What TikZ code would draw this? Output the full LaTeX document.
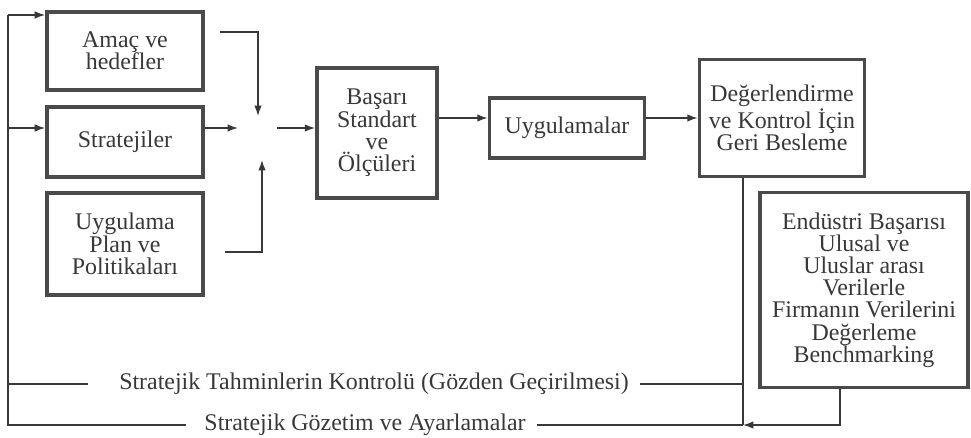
\documentclass[tikz,border=0pt]{standalone}
\usepackage{fontspec}
\setmainfont{Liberation Serif}
\usetikzlibrary{arrows.meta, positioning}
\definecolor{ink}{HTML}{383838}
\definecolor{frame}{HTML}{4A4A4A}

\begin{document}
\begin{tikzpicture}[
    x=0.025cm, y=-0.025cm,
    every node/.style={font=\fontsize{17}{15.8}\selectfont, text=ink},
    box/.style={rectangle, draw=frame, line width=2.6pt, align=center, inner sep=2pt},
    arrow/.style={line width=1.1pt, draw=ink, -{Latex[length=2.6mm, width=1.9mm]}},
    link/.style={line width=1.1pt, draw=ink},
    caption/.style={inner xsep=8pt, inner ysep=0pt}
  ]
    \useasboundingbox (0,0) rectangle (971,438);
    % Boxes
    \node[box, minimum width=3.9cm, minimum height=1.95cm] (amac) at (125,51) {Amaç ve\\hedefler};
    \node[box, minimum width=3.9cm, minimum height=1.75cm] (strat) at (125,142) {Stratejiler};
    \node[box, minimum width=3.9cm, minimum height=2.55cm] (plan) at (125,244) {Uygulama\\Plan ve\\Politikaları};
    \node[box, minimum width=3.0cm, minimum height=3.25cm] (basari) at (377,133) {Başarı\\Standart\\ve\\Ölçüleri};
    \node[box, minimum width=3.875cm, minimum height=1.5cm] (uyg) at (567,128) {Uygulamalar};
    \node[box, minimum width=4.125cm, minimum height=2.925cm] (deger) at (782,118) {Değerlendirme\\ve Kontrol İçin\\Geri Besleme};
    \node[box, minimum width=5.2cm, minimum height=4.875cm] (endustri) at (864,290) {Endüstri Başarısı\\Ulusal ve\\Uluslar arası\\Verilerle\\Firmanın Verilerini\\Değerleme\\Benchmarking};
    % Captions of the feedback lines
    \node[caption] (tahmin) at (374,384) {Stratejik Tahminlerin Kontrolü (Gözden Geçirilmesi)};
    \node[caption] (gozetim) at (365,425) {Stratejik Gözetim ve Ayarlamalar};
    % Junction and bus points
    \coordinate (jn) at (258,116);
    \coordinate (js) at (262,160);
    \coordinate (jw) at (238,128);
    \coordinate (je) at (277,128);
    \coordinate (bustop) at (8,15);
    \coordinate (busmid) at (8,128);
    \coordinate (drop) at (743,425);
    % Inputs
    \draw[arrow] (bustop) -- (amac.west |- bustop);
    \draw[arrow] (busmid) -- (strat.west |- busmid);
    \draw[arrow] (amac.east |- 0,32) ++(15,0) -| (jn);
    \draw[arrow] (strat.east |- jw) -- (jw);
    \draw[arrow] (plan.east |- 0,252) ++(20,0) -| (js);
    % Main flow
    \draw[arrow] (je) -- (basari.west |- je);
    \draw[arrow] (basari.east |- 0,118) -- (uyg.west |- 0,118);
    \draw[arrow] (uyg.east |- deger.west) -- (deger.west);
    % Feedback
    \draw[link] (deger.south -| drop) -- (drop);
    \draw[link] (drop |- tahmin.east) -- (tahmin.east);
    \draw[link] ([xshift=-14pt]tahmin.west) -- (bustop |- tahmin.west);
    \draw[arrow] ([xshift=-17pt]endustri.south) |- (drop);
    \draw[link] (drop) -- (gozetim.east);
    \draw[link] ([xshift=-5pt]gozetim.west) -| (bustop);
\end{tikzpicture}
\end{document}
